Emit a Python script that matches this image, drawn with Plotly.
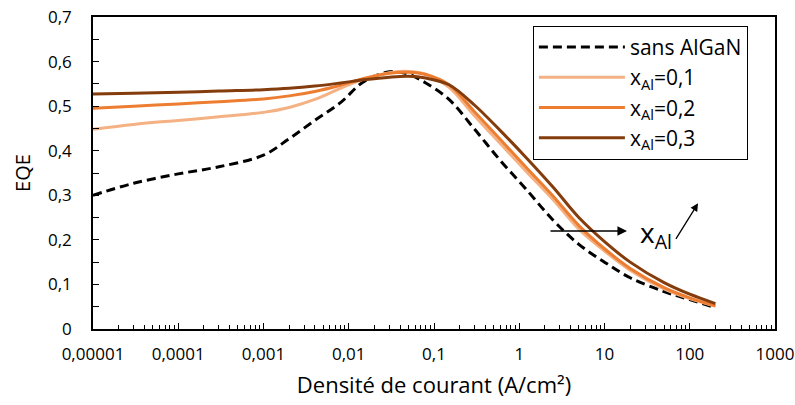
import plotly.graph_objects as go

# Current density (A/cm2)
current_density = [1e-5, 3e-5, 1e-4, 3e-4, 1e-3, 2e-3, 4e-3, 8e-3, 0.015, 0.03, 0.05, 0.08,
                   0.15, 0.3, 0.6, 1.2, 2.5, 5, 10, 20, 50, 100, 200]

eqe_sans_algan = [0.300, 0.327, 0.348, 0.364, 0.390, 0.427, 0.468, 0.508, 0.555, 0.577, 0.572, 0.552,
                  0.515, 0.448, 0.378, 0.314, 0.244, 0.190, 0.150, 0.115, 0.084, 0.066, 0.048]
eqe_x01 = [0.448, 0.459, 0.468, 0.476, 0.486, 0.497, 0.515, 0.540, 0.561, 0.575, 0.578, 0.572,
           0.542, 0.478, 0.416, 0.354, 0.290, 0.224, 0.175, 0.132, 0.090, 0.068, 0.051]
eqe_x02 = [0.495, 0.500, 0.505, 0.510, 0.516, 0.523, 0.533, 0.547, 0.562, 0.574, 0.576, 0.571,
           0.548, 0.487, 0.425, 0.363, 0.298, 0.232, 0.180, 0.136, 0.093, 0.070, 0.052]
eqe_x03 = [0.527, 0.529, 0.531, 0.534, 0.537, 0.540, 0.545, 0.552, 0.559, 0.565, 0.567, 0.563,
           0.548, 0.502, 0.445, 0.385, 0.318, 0.250, 0.196, 0.150, 0.104, 0.078, 0.057]

series_names = ["sans AlGaN", "x<sub>Al</sub>=0,1", "x<sub>Al</sub>=0,2", "x<sub>Al</sub>=0,3"]
series_colors = ["#000000", "#F4B183", "#ED7D31", "#843C0C"]

x_tick_vals = [1e-5, 1e-4, 1e-3, 1e-2, 1e-1, 1, 10, 100, 1000]
x_tick_text = ["0,00001", "0,0001", "0,001", "0,01", "0,1", "1", "10", "100", "1000"]
y_tick_vals = [0, 0.1, 0.2, 0.3, 0.4, 0.5, 0.6, 0.7]
y_tick_text = ["0", "0,1", "0,2", "0,3", "0,4", "0,5", "0,6", "0,7"]

FONT = "Open Sans, Lato, sans-serif"

fig = go.Figure()
for name, ys, col in zip(series_names, [eqe_sans_algan, eqe_x01, eqe_x02, eqe_x03], series_colors):
    fig.add_trace(go.Scatter(
        x=current_density, y=ys, mode="lines", name=name,
        line=dict(color=col, width=3, dash="9px,5px" if name == "sans AlGaN" else "solid",
                  shape="spline", smoothing=1.0),
    ))

minor_x = []
for d in range(-5, 3):
    for m in range(2, 10):
        minor_x.append(m * 10 ** d)

fig.update_layout(
    width=795, height=405,
    margin=dict(l=93, r=20, t=17, b=76, autoexpand=False),
    paper_bgcolor="white", plot_bgcolor="white",
    font=dict(family=FONT, size=16, color="black"),
    showlegend=True,
    legend=dict(
        x=0.645, y=0.972, xanchor="left", yanchor="top",
        bordercolor="black", borderwidth=1, bgcolor="white",
        font=dict(family=FONT, size=21, color="black"),
        tracegroupgap=0, itemwidth=86,
    ),
    xaxis=dict(
        type="log", range=[-5, 3],
        tickmode="array", tickvals=x_tick_vals, ticktext=x_tick_text,
        ticks="inside", ticklen=6, tickwidth=1.3, tickcolor="black",
        showline=True, linecolor="black", linewidth=1.6, mirror=True,
        showgrid=False, zeroline=False,
        minor=dict(tickmode="array", tickvals=minor_x, ticks="inside", ticklen=4,
                   tickwidth=1, tickcolor="black", showgrid=False),
        title=dict(text="Densité de courant (A/cm²)", font=dict(family=FONT, size=22), standoff=13),
        tickfont=dict(family=FONT, size=17),
        ticklabelstandoff=9,
    ),
    yaxis=dict(
        range=[0, 0.7],
        tickmode="array", tickvals=y_tick_vals, ticktext=y_tick_text,
        ticks="inside", ticklen=6, tickwidth=1.3, tickcolor="black",
        showline=True, linecolor="black", linewidth=1.6, mirror=True,
        showgrid=False, zeroline=False,
        minor=dict(dtick=0.05, ticks="inside", ticklen=6, tickwidth=1, tickcolor="black", showgrid=False),
        title=dict(text="EQE", font=dict(family=FONT, size=20), standoff=12),
        tickfont=dict(family=FONT, size=17),
        ticklabelstandoff=16,
    ),
)

# Arrow annotations (x in log10 units on the log axis)
fig.add_annotation(x=1.264, y=0.22, ax=0.349, ay=0.22, xref="x", yref="y", axref="x", ayref="y",
                   text="", showarrow=True, arrowhead=2, arrowsize=1.2, arrowwidth=1.6, arrowcolor="black")
fig.add_annotation(x=2.097, y=0.282, ax=1.827, ay=0.199, xref="x", yref="y", axref="x", ayref="y",
                   text="", showarrow=True, arrowhead=2, arrowsize=1.2, arrowwidth=1.3, arrowcolor="black")
fig.add_annotation(x=1.60, y=0.213, xref="x", yref="y", text="x<sub>Al</sub>", showarrow=False,
                   font=dict(family=FONT, size=28, color="black"))

fig.write_html("out.html", config={"displayModeBar": False},
               post_script="document.body.style.margin='0';")
